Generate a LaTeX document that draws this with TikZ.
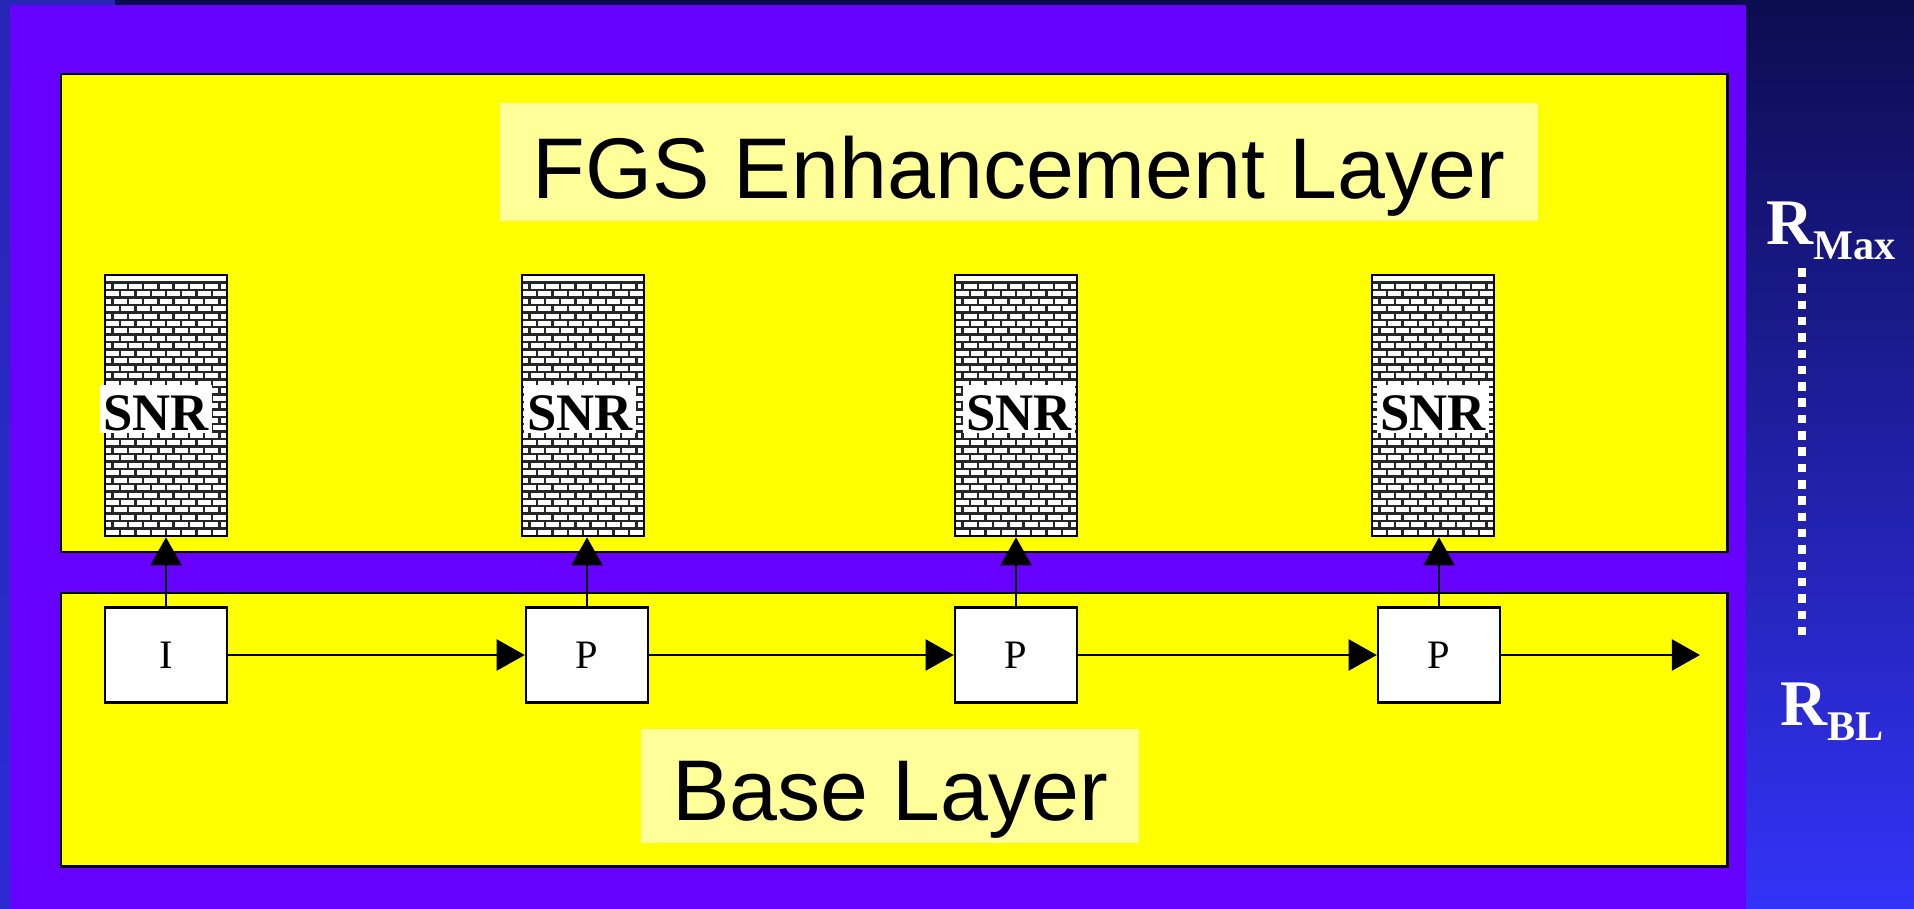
\documentclass[tikz,border=0pt]{standalone}
\usepackage{fontspec}
\setmainfont{Liberation Serif}
\newfontfamily\arialfont{Liberation Sans}
\usetikzlibrary{arrows.meta,positioning}
\definecolor{navy}{HTML}{0C0C50}
\definecolor{brightblue}{HTML}{3333F8}
\definecolor{edgeblue}{HTML}{2626B6}
\definecolor{violet}{HTML}{6600FF}
\definecolor{pureyellow}{HTML}{FFFF00}
\definecolor{lyellow}{HTML}{FFFF99}
\begin{document}
\begin{tikzpicture}[x=0.01cm,y=-0.01cm,>={Triangle[length=2.8mm,width=3.1mm]},
  layer/.style={draw,line width=0.85pt,fill=pureyellow},
  title/.style={fill=lyellow,font=\arialfont\fontsize{24.5}{29}\selectfont,inner sep=0pt,text depth=0pt},
  tower/.style={draw,line width=0.7pt,fill=white,minimum width=1.22cm,minimum height=2.61cm,inner sep=0pt},
  snr/.style={fill=white,font=\bfseries\fontsize{15}{15}\selectfont,inner xsep=1pt,inner ysep=0.85pt,text height=12pt,text depth=0pt},
  frm/.style={draw,line width=0.7pt,fill=white,minimum width=1.22cm,minimum height=0.95cm,font=\fontsize{11.5}{12}\selectfont},
  rate/.style={text=white,font=\bfseries\fontsize{18.5}{19}\selectfont,inner sep=0pt,anchor=base west},
  arr/.style={->,line width=0.6pt}]
\useasboundingbox (0,0) rectangle (1914,909);
% background
\shade[top color=navy,bottom color=brightblue] (0,0) rectangle (1914,909);
\shade[top color=edgeblue,bottom color=brightblue!85!black] (0,0) rectangle (10,909);
\fill[edgeblue] (0,0) rectangle (115,5);
\fill[violet] (10,5) rectangle (1746,909);
\draw[layer] (61,74) rectangle (1727,552);
\draw[layer] (61,593) rectangle (1727,866);
\node[title,minimum width=10.38cm,minimum height=1.18cm,text height=21pt](fgs) at (1019,162){FGS Enhancement Layer};
\node[title,minimum width=4.97cm,minimum height=1.14cm,text height=19.6pt](base) at (890,786){Base Layer};
% SNR towers
\foreach \n/\x/\s in {1/166/156,2/583/580,3/1016/1019,4/1433/1433}{
  \node[tower](t\n) at (\x,405.5){};
  \begin{scope}
    \clip (\x-61,275) rectangle (\x+61,536);
    \foreach \k in {1,...,34}{
      \draw[black!85,line width=0.7pt] (\x-61,275+\k*7.46) -- (\x+61,275+\k*7.46);
      \pgfmathsetmacro\off{mod(\k,2)*7.6}
      \foreach \j in {0,...,8}
        \draw[black!85,line width=0.7pt] (\x-61+\off+\j*15.25,275+\k*7.46) -- ++(0,7.46);
    }
  \end{scope}
  \node[tower,fill=none](t\n) at (\x,405.5){};
  \node[snr](s\n) at (\s,409){SNR};
}
% base layer frames
\node[frm](f1) at (166,655){I};
\node[frm](f2) at (587,655){P};
\node[frm](f3) at (1016,655){P};
\node[frm](f4) at (1439,655){P};
\coordinate (fend) at (1700,655);
\foreach \x/\y in {f1/f2,f2/f3,f3/f4,f4/fend} \draw[arr](\x)--(\y);
\foreach \n in {1,...,4} \draw[arr](f\n.north)--(f\n.north|-t\n.south);
% rate range
\node[rate](rmax) at (1766,244){R\raisebox{-4.5pt}{\fontsize{12}{12}\selectfont Max}};
\node[rate](rbl) at (1780,725){R\raisebox{-4.5pt}{\fontsize{12}{12}\selectfont BL}};
\coordinate (dtop) at (1802,268);
\coordinate (dbot) at (1802,643);
\draw[white,line width=0.085cm,dash pattern=on 0.085cm off 0.078cm] (dtop)--(dbot);
\end{tikzpicture}
\end{document}
